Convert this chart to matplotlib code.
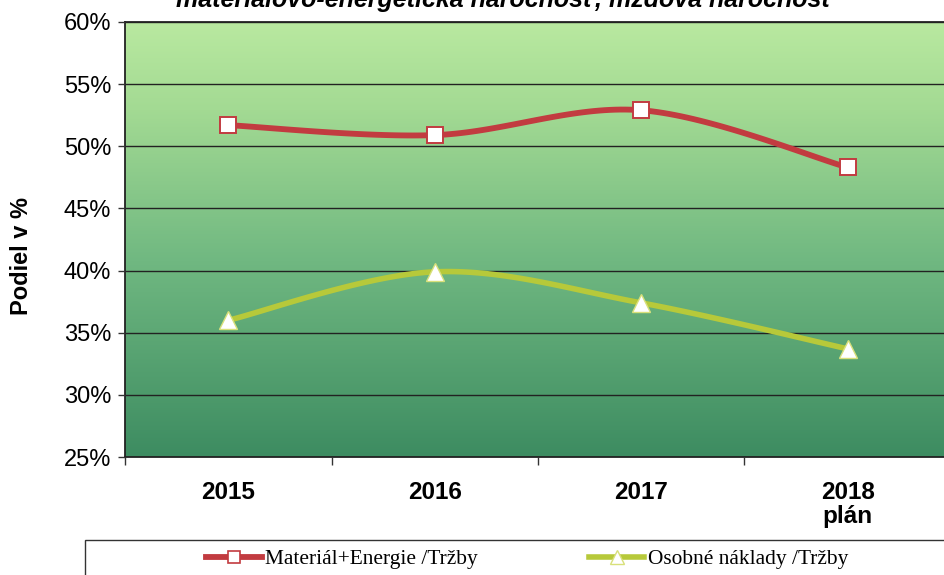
import numpy as np
import matplotlib
matplotlib.use('Agg')
import matplotlib.pyplot as plt
from matplotlib.colors import LinearSegmentedColormap
from matplotlib.patches import Rectangle
from matplotlib.lines import Line2D

categories = ['2015', '2016', '2017', '2018\nplán']
material_energie = [51.7, 50.9, 52.9, 48.3]
osobne_naklady = [36.0, 39.9, 37.4, 33.7]
y_ticks = [25, 30, 35, 40, 45, 50, 55, 60]
series_labels = ['Materiál+Energie /Tržby', 'Osobné náklady /Tržby']
title = 'materiálovo-energetická náročnosť, mzdová náročnosť'
y_label = 'Podiel v %'

RED = '#c23b40'
YG = '#b7c93a'


def smooth(y, n=40):
    x = np.arange(len(y), dtype=float)
    P = np.column_stack([x, np.asarray(y, float)])
    pts = np.vstack([P[0], P, P[-1]])
    out = []
    for i in range(1, len(pts) - 2):
        p0, p1, p2, p3 = pts[i - 1], pts[i], pts[i + 1], pts[i + 2]
        c1 = p1 + (p2 - p0) / 6
        c2 = p2 - (p3 - p1) / 6
        t = np.linspace(0, 1, n)[:, None]
        b = (1 - t) ** 3 * p1 + 3 * (1 - t) ** 2 * t * c1 + 3 * (1 - t) * t ** 2 * c2 + t ** 3 * p2
        out.append(b if i == 1 else b[1:])
    B = np.vstack(out)
    return B[:, 0], B[:, 1]


W, H = 944, 575
fig = plt.figure(figsize=(W / 100, H / 100), dpi=100)
fig.patch.set_facecolor('white')
ax = fig.add_axes([125 / W, 118 / H, 826 / W, 435 / H])

# gradient background
cmap = LinearSegmentedColormap.from_list('g', [(0, '#3d8c61'), (0.45, '#70b881'), (0.8, '#a3da93'), (1, '#b9e9a0')])
grad = np.linspace(0, 1, 256)[:, None]
ax.imshow(grad, cmap=cmap, origin='lower', extent=[0, 1, 0, 1], transform=ax.transAxes,
          aspect='auto', zorder=0)

x = np.arange(len(categories))
ax.set_xlim(-0.5, len(categories) - 0.5)
ax.set_ylim(y_ticks[0], y_ticks[-1])
ax.set_yticks(y_ticks)
ax.set_yticklabels([f'{v}%' for v in y_ticks], fontfamily='Liberation Sans', fontsize=17)
ax.set_xticks(x)
ax.set_xticklabels(categories, fontfamily='Liberation Sans', fontsize=17.5, fontweight='bold',
                   linespacing=1.05)
ax.set_xticks(np.arange(len(categories)) - 0.5, minor=True)
ax.tick_params(axis='x', which='major', length=0, pad=17)
ax.tick_params(axis='x', which='minor', length=6, width=1, direction='out', color='#333333')
ax.tick_params(axis='y', length=5, width=1, direction='out', pad=5, color='#333333')

ax.grid(axis='y', color='#222222', linewidth=1.0, zorder=1)
for s in ['left', 'bottom', 'top']:
    ax.spines[s].set_color('#222222')
    ax.spines[s].set_linewidth(1.3)
ax.spines['right'].set_visible(False)
ax.set_axisbelow(False)

sx, sy = smooth(material_energie)
ax.plot(sx, sy, color=RED, lw=4.2, zorder=3, solid_capstyle='round')
ax.plot(x, material_energie, ls='none', marker='s', ms=12, mfc='white', mec=RED, mew=1.4, zorder=4)
sx, sy = smooth(osobne_naklady)
ax.plot(sx, sy, color=YG, lw=4.0, zorder=3, solid_capstyle='round')
ax.plot(x, osobne_naklady, ls='none', marker='^', ms=13.5, mfc='white', mec='#d8e07a', mew=1.0, zorder=4)

fig.text(22 / W, 1 - 256 / H, y_label, rotation=90, ha='center', va='center',
         fontfamily='Liberation Sans', fontsize=17, fontweight='bold')

fig.text(505 / W, 1 - 7 / H, title, ha='center', va='baseline', fontfamily='Liberation Sans',
         fontsize=18, fontweight='bold', style='italic')

# legend box
fig.patches.append(Rectangle((85 / W, -0.05), 0.95, (575 - 540) / H + 0.05, transform=fig.transFigure,
                             facecolor='white', edgecolor='#333333', lw=1.0, clip_on=False))
handles = [Line2D([], [], color=RED, lw=4.2, marker='s', ms=9, mfc='white', mec=RED, mew=1.2),
           Line2D([], [], color=YG, lw=4.0, marker='^', ms=10, mfc='white', mec='#d8e07a', mew=1.0)]
fig.legend(handles, series_labels, loc='center', bbox_to_anchor=(527 / W, 1 - 559 / H), ncol=2,
           frameon=False, prop={'family': 'Liberation Serif', 'size': 15.4}, handlelength=2.6,
           handletextpad=0.15, columnspacing=5.2)

fig.savefig('out.png', dpi=100)
